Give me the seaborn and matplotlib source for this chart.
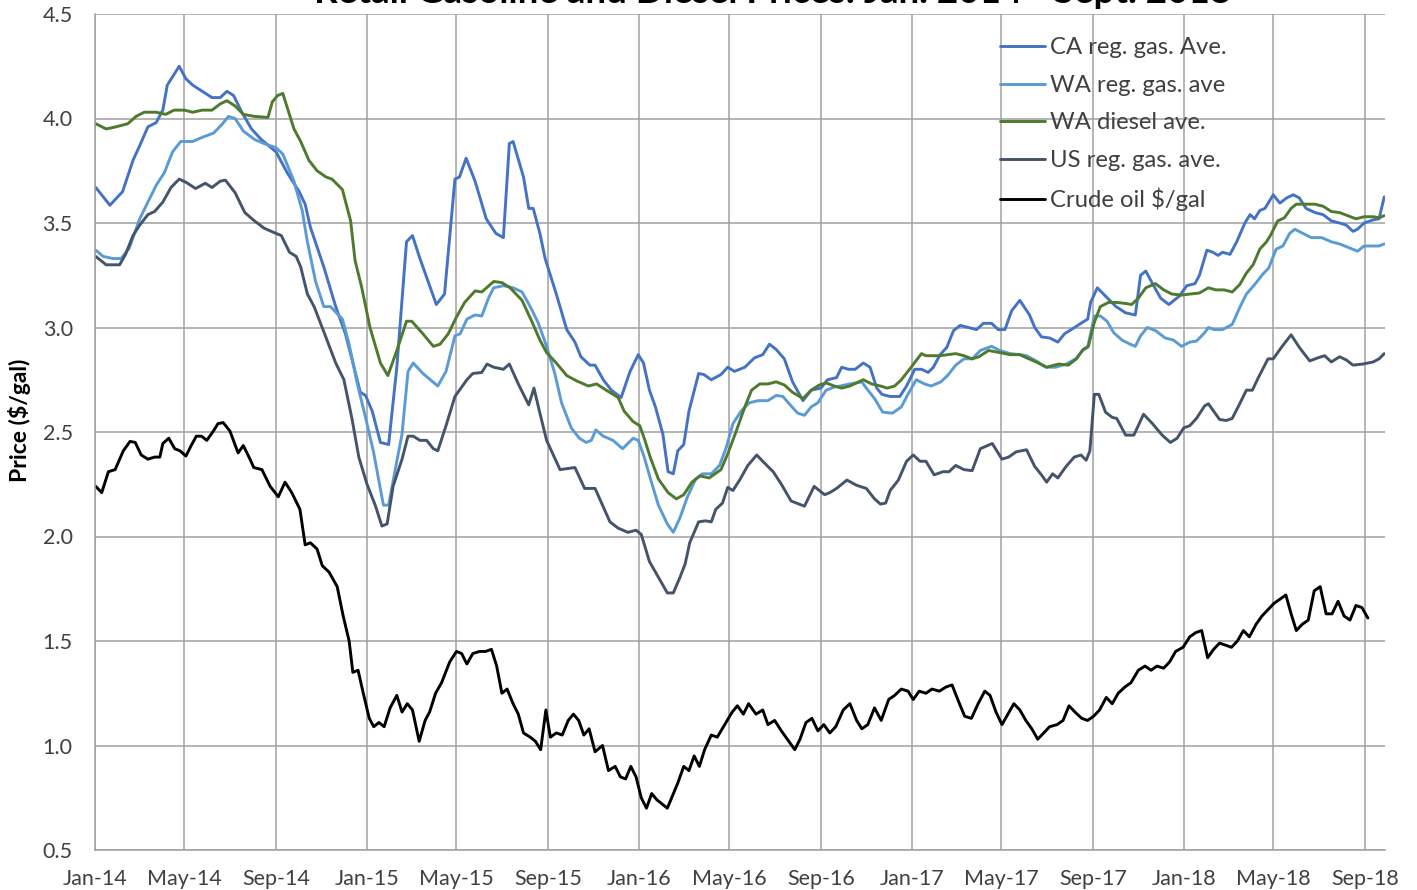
import pandas as pd
import seaborn as sns
import matplotlib.pyplot as plt
import matplotlib.dates as mdates

sns.set_style("white")
plt.rcParams["font.family"] = ["Lato", "DejaVu Sans"]

# ---- data (weekly prices, $/gal) ----
ca_dates = [
    "2014-01-02", "2014-01-21", "2014-02-07", "2014-02-21", "2014-03-02", "2014-03-13", "2014-03-24",
    "2014-04-02", "2014-04-08", "2014-04-24", "2014-05-03", "2014-05-12", "2014-05-25", "2014-06-07",
    "2014-06-18", "2014-06-27", "2014-07-06", "2014-07-17", "2014-07-30", "2014-08-12", "2014-09-01",
    "2014-09-16", "2014-10-02", "2014-10-10", "2014-10-17", "2014-11-04", "2014-11-20", "2014-12-03",
    "2014-12-16", "2014-12-23", "2014-12-30", "2015-01-08", "2015-01-19", "2015-01-30", "2015-02-10",
    "2015-02-23", "2015-03-03", "2015-03-13", "2015-03-24", "2015-04-04", "2015-04-15", "2015-04-29",
    "2015-05-05", "2015-05-14", "2015-05-26", "2015-06-10", "2015-06-23", "2015-07-03", "2015-07-11",
    "2015-07-16", "2015-07-30", "2015-08-06", "2015-08-12", "2015-08-21", "2015-08-28", "2015-09-12",
    "2015-09-26", "2015-10-07", "2015-10-15", "2015-10-27", "2015-11-03", "2015-11-14", "2015-11-25",
    "2015-12-08", "2015-12-20", "2015-12-31", "2016-01-07", "2016-01-15", "2016-01-23", "2016-02-02",
    "2016-02-09", "2016-02-16", "2016-02-22", "2016-03-01", "2016-03-08", "2016-03-21", "2016-03-28",
    "2016-04-07", "2016-04-20", "2016-04-29", "2016-05-08", "2016-05-22", "2016-06-04", "2016-06-15",
    "2016-06-24", "2016-07-03", "2016-07-14", "2016-07-25", "2016-08-08", "2016-08-19", "2016-09-01",
    "2016-09-10", "2016-09-22", "2016-09-29", "2016-10-08", "2016-10-17", "2016-10-28", "2016-11-06",
    "2016-11-15", "2016-11-22", "2016-12-03", "2016-12-16", "2016-12-25", "2017-01-05", "2017-01-14",
    "2017-01-23", "2017-01-30", "2017-02-08", "2017-02-17", "2017-02-26", "2017-03-07", "2017-03-18",
    "2017-03-29", "2017-04-07", "2017-04-18", "2017-04-27", "2017-05-06", "2017-05-15", "2017-05-26",
    "2017-06-08", "2017-06-15", "2017-06-24", "2017-07-05", "2017-07-16", "2017-07-25", "2017-08-03",
    "2017-08-16", "2017-08-25", "2017-08-29", "2017-09-07", "2017-09-18", "2017-10-02", "2017-10-15",
    "2017-10-28", "2017-11-04", "2017-11-11", "2017-11-20", "2017-12-01", "2017-12-12", "2017-12-26",
    "2018-01-05", "2018-01-16", "2018-01-22", "2018-01-27", "2018-02-01", "2018-02-09", "2018-02-16",
    "2018-02-22", "2018-03-04", "2018-03-13", "2018-03-24", "2018-03-31", "2018-04-06", "2018-04-13",
    "2018-04-20", "2018-05-01", "2018-05-10", "2018-05-19", "2018-05-28", "2018-06-05", "2018-06-14",
    "2018-06-26", "2018-07-07", "2018-07-18", "2018-07-29", "2018-08-07", "2018-08-16", "2018-08-22",
    "2018-08-31", "2018-09-12", "2018-09-20", "2018-09-27",
]
ca_price = [
    3.67, 3.585, 3.65, 3.80, 3.87, 3.96, 3.98,
    4.04, 4.16, 4.25, 4.19, 4.16, 4.13, 4.10,
    4.10, 4.13, 4.11, 4.03, 3.95, 3.90, 3.84,
    3.74, 3.65, 3.59, 3.48, 3.29, 3.10, 2.97,
    2.79, 2.69, 2.675, 2.60, 2.45, 2.44, 2.81,
    3.41, 3.44, 3.33, 3.22, 3.11, 3.16, 3.71,
    3.72, 3.81, 3.70, 3.52, 3.45, 3.43, 3.88,
    3.89, 3.72, 3.57, 3.57, 3.45, 3.33, 3.16,
    2.99, 2.93, 2.86, 2.82, 2.82, 2.75, 2.70,
    2.665, 2.79, 2.87, 2.83, 2.70, 2.62, 2.49,
    2.31, 2.30, 2.41, 2.44, 2.60, 2.78, 2.775,
    2.75, 2.775, 2.81, 2.79, 2.81, 2.855, 2.87,
    2.92, 2.895, 2.85, 2.74, 2.65, 2.70, 2.71,
    2.75, 2.76, 2.81, 2.80, 2.80, 2.83, 2.81,
    2.71, 2.68, 2.67, 2.67, 2.72, 2.80, 2.80,
    2.785, 2.81, 2.87, 2.905, 2.985, 3.01, 3.00,
    2.99, 3.02, 3.02, 2.99, 2.99, 3.08, 3.13,
    3.06, 3.00, 2.955, 2.95, 2.93, 2.97, 2.99,
    3.02, 3.04, 3.12, 3.19, 3.15, 3.10, 3.07,
    3.06, 3.25, 3.27, 3.21, 3.14, 3.11, 3.15,
    3.20, 3.21, 3.25, 3.31, 3.37, 3.36, 3.345,
    3.36, 3.35, 3.41, 3.50, 3.54, 3.52, 3.56,
    3.57, 3.635, 3.595, 3.62, 3.635, 3.62, 3.57,
    3.55, 3.54, 3.51, 3.50, 3.49, 3.46, 3.47,
    3.50, 3.515, 3.52, 3.625,
]

wa_gas_dates = [
    "2014-01-02", "2014-01-12", "2014-01-25", "2014-02-05", "2014-02-16", "2014-03-02", "2014-03-13",
    "2014-03-24", "2014-04-04", "2014-04-15", "2014-04-26", "2014-05-12", "2014-05-25", "2014-06-09",
    "2014-06-20", "2014-06-29", "2014-07-08", "2014-07-19", "2014-08-03", "2014-08-16", "2014-09-01",
    "2014-09-10", "2014-09-25", "2014-10-06", "2014-10-13", "2014-10-24", "2014-11-04", "2014-11-13",
    "2014-11-29", "2014-12-08", "2014-12-19", "2014-12-30", "2015-01-10", "2015-01-23", "2015-01-30",
    "2015-02-10", "2015-02-17", "2015-02-25", "2015-03-04", "2015-03-17", "2015-04-06", "2015-04-17",
    "2015-04-29", "2015-05-06", "2015-05-15", "2015-05-26", "2015-06-04", "2015-06-13", "2015-06-20",
    "2015-07-03", "2015-07-16", "2015-07-28", "2015-08-08", "2015-08-19", "2015-08-30", "2015-09-10",
    "2015-09-19", "2015-10-02", "2015-10-13", "2015-10-22", "2015-10-29", "2015-11-04", "2015-11-14",
    "2015-11-27", "2015-12-10", "2015-12-24", "2015-12-31", "2016-01-08", "2016-01-16", "2016-01-27",
    "2016-02-08", "2016-02-16", "2016-02-25", "2016-03-06", "2016-03-17", "2016-03-26", "2016-04-07",
    "2016-04-18", "2016-04-27", "2016-05-06", "2016-05-17", "2016-05-28", "2016-06-09", "2016-06-22",
    "2016-07-03", "2016-07-12", "2016-07-23", "2016-08-01", "2016-08-10", "2016-08-19", "2016-08-28",
    "2016-09-08", "2016-09-19", "2016-09-27", "2016-10-10", "2016-10-26", "2016-11-01", "2016-11-12",
    "2016-11-23", "2016-12-06", "2016-12-18", "2016-12-26", "2017-01-07", "2017-01-18", "2017-01-27",
    "2017-02-09", "2017-02-18", "2017-03-01", "2017-03-12", "2017-03-23", "2017-04-03", "2017-04-18",
    "2017-04-29", "2017-05-13", "2017-05-26", "2017-06-04", "2017-06-17", "2017-06-30", "2017-07-13",
    "2017-07-27", "2017-08-09", "2017-08-18", "2017-08-25", "2017-09-03", "2017-09-11", "2017-09-20",
    "2017-09-29", "2017-10-10", "2017-10-21", "2017-10-28", "2017-11-04", "2017-11-13", "2017-11-24",
    "2017-12-07", "2017-12-18", "2017-12-29", "2018-01-09", "2018-01-18", "2018-01-29", "2018-02-03",
    "2018-02-11", "2018-02-22", "2018-03-07", "2018-03-17", "2018-03-26", "2018-04-06", "2018-04-17",
    "2018-04-25", "2018-05-05", "2018-05-14", "2018-05-23", "2018-05-30", "2018-06-10", "2018-06-21",
    "2018-07-05", "2018-07-18", "2018-07-29", "2018-08-12", "2018-08-22", "2018-08-31", "2018-09-12",
    "2018-09-20", "2018-09-27",
]
wa_gas_price = [
    3.37, 3.34, 3.33, 3.33, 3.38, 3.52, 3.60,
    3.68, 3.74, 3.84, 3.89, 3.89, 3.91, 3.93,
    3.97, 4.01, 4.00, 3.94, 3.90, 3.88, 3.86,
    3.83, 3.70, 3.56, 3.41, 3.22, 3.10, 3.10,
    3.04, 2.92, 2.73, 2.57, 2.40, 2.15, 2.15,
    2.36, 2.49, 2.79, 2.83, 2.78, 2.72, 2.79,
    2.96, 2.97, 3.04, 3.06, 3.055, 3.14, 3.19,
    3.20, 3.19, 3.17, 3.10, 3.02, 2.91, 2.78,
    2.64, 2.52, 2.47, 2.45, 2.46, 2.51, 2.48,
    2.46, 2.42, 2.47, 2.46, 2.38, 2.28, 2.15,
    2.06, 2.02, 2.09, 2.19, 2.275, 2.30, 2.30,
    2.34, 2.425, 2.54, 2.60, 2.64, 2.65, 2.65,
    2.675, 2.67, 2.625, 2.59, 2.58, 2.62, 2.64,
    2.70, 2.715, 2.72, 2.73, 2.74, 2.71, 2.66,
    2.595, 2.59, 2.62, 2.675, 2.75, 2.73, 2.72,
    2.74, 2.77, 2.82, 2.85, 2.85, 2.89, 2.91,
    2.89, 2.875, 2.87, 2.865, 2.84, 2.81, 2.81,
    2.825, 2.85, 2.89, 2.905, 3.055, 3.055, 3.03,
    2.975, 2.94, 2.92, 2.91, 2.96, 3.00, 2.985,
    2.95, 2.94, 2.91, 2.93, 2.935, 2.975, 3.00,
    2.99, 2.99, 3.015, 3.095, 3.16, 3.205, 3.255,
    3.285, 3.375, 3.39, 3.45, 3.47, 3.45, 3.43,
    3.43, 3.41, 3.40, 3.38, 3.365, 3.39, 3.39,
    3.39, 3.40,
]

wa_diesel_dates = [
    "2014-01-02", "2014-01-16", "2014-01-29", "2014-02-14", "2014-02-25", "2014-03-08", "2014-03-24",
    "2014-04-06", "2014-04-17", "2014-05-01", "2014-05-12", "2014-05-25", "2014-06-07", "2014-06-18",
    "2014-06-27", "2014-07-08", "2014-07-19", "2014-08-03", "2014-08-21", "2014-08-27", "2014-09-03",
    "2014-09-10", "2014-09-25", "2014-10-04", "2014-10-15", "2014-10-26", "2014-11-07", "2014-11-15",
    "2014-11-29", "2014-12-10", "2014-12-16", "2014-12-25", "2015-01-05", "2015-01-19", "2015-01-29",
    "2015-02-10", "2015-02-23", "2015-03-02", "2015-03-17", "2015-03-31", "2015-04-09", "2015-04-20",
    "2015-05-01", "2015-05-12", "2015-05-26", "2015-06-04", "2015-06-20", "2015-07-01", "2015-07-12",
    "2015-07-28", "2015-08-10", "2015-08-21", "2015-08-30", "2015-09-12", "2015-09-26", "2015-10-09",
    "2015-10-25", "2015-11-05", "2015-11-18", "2015-12-04", "2015-12-12", "2015-12-24", "2016-01-02",
    "2016-01-08", "2016-01-16", "2016-01-27", "2016-02-09", "2016-02-20", "2016-03-01", "2016-03-12",
    "2016-03-23", "2016-04-04", "2016-04-20", "2016-04-29", "2016-05-10", "2016-05-22", "2016-05-31",
    "2016-06-11", "2016-06-22", "2016-07-03", "2016-07-14", "2016-07-25", "2016-08-08", "2016-08-19",
    "2016-08-30", "2016-09-08", "2016-09-19", "2016-09-29", "2016-10-10", "2016-10-28", "2016-11-08",
    "2016-11-20", "2016-11-29", "2016-12-09", "2016-12-18", "2016-12-29", "2017-01-14", "2017-01-20",
    "2017-02-08", "2017-03-01", "2017-03-12", "2017-03-23", "2017-04-01", "2017-04-14", "2017-04-29",
    "2017-05-13", "2017-05-26", "2017-06-04", "2017-06-17", "2017-07-01", "2017-07-17", "2017-07-30",
    "2017-08-10", "2017-08-19", "2017-08-26", "2017-09-03", "2017-09-11", "2017-09-22", "2017-10-03",
    "2017-10-15", "2017-10-23", "2017-11-01", "2017-11-11", "2017-11-24", "2017-12-05", "2017-12-16",
    "2017-12-29", "2018-01-09", "2018-01-22", "2018-02-03", "2018-02-13", "2018-02-24", "2018-03-07",
    "2018-03-17", "2018-03-26", "2018-04-04", "2018-04-13", "2018-04-22", "2018-04-28", "2018-05-07",
    "2018-05-16", "2018-05-25", "2018-06-01", "2018-06-12", "2018-06-26", "2018-07-07", "2018-07-18",
    "2018-07-29", "2018-08-09", "2018-08-20", "2018-08-31", "2018-09-12", "2018-09-20", "2018-09-27",
]
wa_diesel_price = [
    3.975, 3.95, 3.96, 3.975, 4.01, 4.03, 4.03,
    4.02, 4.04, 4.04, 4.03, 4.04, 4.04, 4.07,
    4.085, 4.06, 4.02, 4.01, 4.005, 4.08, 4.11,
    4.12, 3.95, 3.89, 3.80, 3.75, 3.72, 3.71,
    3.66, 3.51, 3.32, 3.19, 3.00, 2.83, 2.77,
    2.89, 3.03, 3.03, 2.97, 2.91, 2.92, 2.97,
    3.05, 3.12, 3.175, 3.17, 3.22, 3.215, 3.19,
    3.13, 3.03, 2.94, 2.88, 2.83, 2.77, 2.745,
    2.72, 2.73, 2.70, 2.665, 2.60, 2.55, 2.53,
    2.47, 2.38, 2.275, 2.21, 2.18, 2.20, 2.26,
    2.29, 2.28, 2.32, 2.395, 2.50, 2.62, 2.70,
    2.73, 2.73, 2.74, 2.725, 2.69, 2.66, 2.70,
    2.725, 2.735, 2.72, 2.71, 2.72, 2.75, 2.73,
    2.72, 2.71, 2.72, 2.75, 2.80, 2.875, 2.865,
    2.865, 2.875, 2.865, 2.85, 2.86, 2.89, 2.88,
    2.87, 2.87, 2.855, 2.835, 2.81, 2.825, 2.82,
    2.85, 2.895, 2.91, 3.025, 3.10, 3.12, 3.12,
    3.115, 3.11, 3.14, 3.19, 3.21, 3.18, 3.16,
    3.155, 3.16, 3.165, 3.19, 3.18, 3.18, 3.17,
    3.205, 3.26, 3.30, 3.375, 3.41, 3.445, 3.51,
    3.525, 3.57, 3.59, 3.59, 3.59, 3.58, 3.555,
    3.55, 3.535, 3.52, 3.53, 3.53, 3.525, 3.535,
]

us_gas_dates = [
    "2014-01-02", "2014-01-16", "2014-02-03", "2014-02-11", "2014-02-21", "2014-03-02", "2014-03-13",
    "2014-03-22", "2014-04-02", "2014-04-13", "2014-04-24", "2014-05-03", "2014-05-16", "2014-05-29",
    "2014-06-07", "2014-06-18", "2014-06-25", "2014-07-08", "2014-07-21", "2014-08-03", "2014-08-16",
    "2014-09-01", "2014-09-08", "2014-09-19", "2014-09-28", "2014-10-04", "2014-10-13", "2014-10-22",
    "2014-11-04", "2014-11-20", "2014-12-01", "2014-12-12", "2014-12-21", "2015-01-01", "2015-01-12",
    "2015-01-21", "2015-01-28", "2015-02-05", "2015-02-17", "2015-02-25", "2015-03-04", "2015-03-13",
    "2015-03-22", "2015-03-31", "2015-04-06", "2015-04-17", "2015-04-29", "2015-05-15", "2015-05-23",
    "2015-06-04", "2015-06-11", "2015-06-20", "2015-07-03", "2015-07-11", "2015-07-23", "2015-08-06",
    "2015-08-13", "2015-08-21", "2015-08-30", "2015-09-17", "2015-10-07", "2015-10-20", "2015-11-03",
    "2015-11-23", "2015-12-04", "2015-12-17", "2015-12-28", "2016-01-04", "2016-01-15", "2016-01-27",
    "2016-02-08", "2016-02-16", "2016-02-25", "2016-03-03", "2016-03-09", "2016-03-21", "2016-03-30",
    "2016-04-07", "2016-04-13", "2016-04-22", "2016-04-29", "2016-05-06", "2016-05-15", "2016-05-26",
    "2016-06-07", "2016-06-15", "2016-06-29", "2016-07-10", "2016-07-23", "2016-08-10", "2016-08-23",
    "2016-09-06", "2016-09-13", "2016-09-22", "2016-10-06", "2016-10-19", "2016-11-01", "2016-11-12",
    "2016-11-20", "2016-11-27", "2016-12-03", "2016-12-14", "2016-12-25", "2017-01-03", "2017-01-12",
    "2017-01-20", "2017-01-31", "2017-02-12", "2017-02-20", "2017-03-01", "2017-03-12", "2017-03-23",
    "2017-04-03", "2017-04-19", "2017-05-02", "2017-05-11", "2017-05-21", "2017-06-04", "2017-06-15",
    "2017-06-24", "2017-07-01", "2017-07-09", "2017-07-16", "2017-07-27", "2017-08-07", "2017-08-16",
    "2017-08-23", "2017-08-28", "2017-09-03", "2017-09-09", "2017-09-18", "2017-09-27", "2017-10-03",
    "2017-10-15", "2017-10-26", "2017-11-08", "2017-11-20", "2017-12-03", "2017-12-14", "2017-12-23",
    "2018-01-01", "2018-01-09", "2018-01-18", "2018-01-29", "2018-02-03", "2018-02-11", "2018-02-18",
    "2018-02-27", "2018-03-07", "2018-03-17", "2018-03-26", "2018-04-03", "2018-04-11", "2018-04-24",
    "2018-05-01", "2018-05-12", "2018-05-25", "2018-06-05", "2018-06-19", "2018-06-30", "2018-07-09",
    "2018-07-18", "2018-07-29", "2018-08-07", "2018-08-16", "2018-08-29", "2018-09-12", "2018-09-20",
    "2018-09-27",
]
us_gas_price = [
    3.34, 3.30, 3.30, 3.35, 3.44, 3.49, 3.54,
    3.555, 3.60, 3.67, 3.71, 3.695, 3.665, 3.69,
    3.67, 3.70, 3.705, 3.645, 3.55, 3.51, 3.475,
    3.45, 3.44, 3.36, 3.34, 3.29, 3.16, 3.10,
    2.98, 2.83, 2.75, 2.56, 2.38, 2.25, 2.15,
    2.05, 2.06, 2.24, 2.37, 2.48, 2.48, 2.46,
    2.46, 2.42, 2.41, 2.53, 2.67, 2.75, 2.78,
    2.785, 2.825, 2.81, 2.80, 2.825, 2.73, 2.63,
    2.71, 2.59, 2.46, 2.32, 2.33, 2.23, 2.23,
    2.07, 2.04, 2.02, 2.03, 2.01, 1.88, 1.805,
    1.73, 1.73, 1.805, 1.87, 1.97, 2.07, 2.075,
    2.07, 2.13, 2.16, 2.235, 2.22, 2.27, 2.34,
    2.39, 2.36, 2.31, 2.25, 2.17, 2.145, 2.24,
    2.20, 2.21, 2.23, 2.27, 2.245, 2.23, 2.18,
    2.155, 2.16, 2.22, 2.27, 2.36, 2.39, 2.36,
    2.36, 2.295, 2.31, 2.31, 2.34, 2.32, 2.315,
    2.42, 2.445, 2.37, 2.38, 2.405, 2.415, 2.335,
    2.295, 2.26, 2.30, 2.28, 2.335, 2.38, 2.39,
    2.365, 2.41, 2.68, 2.68, 2.595, 2.57, 2.565,
    2.485, 2.485, 2.585, 2.54, 2.485, 2.45, 2.47,
    2.52, 2.53, 2.565, 2.625, 2.635, 2.595, 2.56,
    2.555, 2.565, 2.635, 2.70, 2.70, 2.76, 2.85,
    2.85, 2.905, 2.965, 2.905, 2.84, 2.855, 2.865,
    2.835, 2.86, 2.845, 2.82, 2.825, 2.835, 2.85,
    2.875,
]

crude_dates = [
    "2014-01-02", "2014-01-10", "2014-01-19", "2014-01-28", "2014-02-08", "2014-02-17", "2014-02-24",
    "2014-03-04", "2014-03-13", "2014-03-22", "2014-03-29", "2014-04-02", "2014-04-10", "2014-04-18",
    "2014-04-25", "2014-05-03", "2014-05-10", "2014-05-17", "2014-05-24", "2014-05-31", "2014-06-08",
    "2014-06-15", "2014-06-22", "2014-07-01", "2014-07-12", "2014-07-19", "2014-07-28", "2014-08-02",
    "2014-08-13", "2014-08-24", "2014-09-04", "2014-09-13", "2014-09-22", "2014-10-03", "2014-10-10",
    "2014-10-17", "2014-10-26", "2014-11-02", "2014-11-11", "2014-11-22", "2014-11-30", "2014-12-08",
    "2014-12-13", "2014-12-20", "2014-12-27", "2015-01-04", "2015-01-10", "2015-01-17", "2015-01-24",
    "2015-02-01", "2015-02-10", "2015-02-17", "2015-02-24", "2015-03-03", "2015-03-12", "2015-03-20",
    "2015-03-26", "2015-04-03", "2015-04-11", "2015-04-22", "2015-05-01", "2015-05-08", "2015-05-15",
    "2015-05-23", "2015-06-01", "2015-06-09", "2015-06-17", "2015-06-24", "2015-07-01", "2015-07-08",
    "2015-07-16", "2015-07-23", "2015-07-30", "2015-08-08", "2015-08-15", "2015-08-22", "2015-08-29",
    "2015-09-04", "2015-09-12", "2015-09-20", "2015-09-28", "2015-10-05", "2015-10-12", "2015-10-19",
    "2015-10-26", "2015-11-03", "2015-11-13", "2015-11-21", "2015-11-30", "2015-12-07", "2015-12-14",
    "2015-12-21", "2015-12-28", "2016-01-04", "2016-01-11", "2016-01-18", "2016-01-25", "2016-02-01",
    "2016-02-08", "2016-02-15", "2016-02-22", "2016-03-01", "2016-03-08", "2016-03-15", "2016-03-22",
    "2016-03-29", "2016-04-07", "2016-04-15", "2016-04-25", "2016-05-05", "2016-05-12", "2016-05-20",
    "2016-05-27", "2016-06-06", "2016-06-15", "2016-06-22", "2016-07-01", "2016-07-10", "2016-07-18",
    "2016-07-28", "2016-08-04", "2016-08-12", "2016-08-20", "2016-08-28", "2016-09-05", "2016-09-13",
    "2016-09-21", "2016-10-01", "2016-10-10", "2016-10-19", "2016-10-26", "2016-11-03", "2016-11-12",
    "2016-11-21", "2016-12-01", "2016-12-09", "2016-12-18", "2016-12-27", "2017-01-03", "2017-01-11",
    "2017-01-20", "2017-01-28", "2017-02-07", "2017-02-16", "2017-02-24", "2017-03-06", "2017-03-13",
    "2017-03-22", "2017-03-31", "2017-04-09", "2017-04-16", "2017-04-24", "2017-05-02", "2017-05-10",
    "2017-05-18", "2017-05-26", "2017-06-03", "2017-06-11", "2017-06-19", "2017-06-27", "2017-07-05",
    "2017-07-15", "2017-07-23", "2017-07-31", "2017-08-08", "2017-08-17", "2017-08-25", "2017-09-02",
    "2017-09-10", "2017-09-19", "2017-09-27", "2017-10-05", "2017-10-14", "2017-10-22", "2017-11-01",
    "2017-11-10", "2017-11-18", "2017-11-26", "2017-12-05", "2017-12-13", "2017-12-21", "2017-12-31",
    "2018-01-09", "2018-01-17", "2018-01-25", "2018-02-02", "2018-02-10", "2018-02-18", "2018-02-26",
    "2018-03-06", "2018-03-14", "2018-03-22", "2018-03-30", "2018-04-08", "2018-04-16", "2018-04-24",
    "2018-05-02", "2018-05-10", "2018-05-18", "2018-05-25", "2018-06-01", "2018-06-09", "2018-06-17",
    "2018-06-25", "2018-07-03", "2018-07-11", "2018-07-19", "2018-07-27", "2018-08-04", "2018-08-12",
    "2018-08-20", "2018-08-28", "2018-09-05",
]
crude_price = [
    2.24, 2.21, 2.31, 2.32, 2.41, 2.455, 2.45,
    2.39, 2.37, 2.38, 2.38, 2.445, 2.47, 2.42,
    2.41, 2.385, 2.435, 2.48, 2.48, 2.46, 2.50,
    2.54, 2.545, 2.505, 2.40, 2.435, 2.37, 2.33,
    2.32, 2.24, 2.19, 2.26, 2.21, 2.13, 1.96,
    1.97, 1.94, 1.86, 1.83, 1.76, 1.62, 1.50,
    1.35, 1.36, 1.25, 1.13, 1.09, 1.11, 1.09,
    1.18, 1.24, 1.16, 1.20, 1.17, 1.02, 1.12,
    1.16, 1.25, 1.30, 1.40, 1.45, 1.44, 1.39,
    1.44, 1.45, 1.45, 1.46, 1.38, 1.25, 1.27,
    1.20, 1.15, 1.06, 1.04, 1.02, 0.98, 1.17,
    1.04, 1.06, 1.05, 1.12, 1.15, 1.12, 1.05,
    1.08, 0.97, 1.00, 0.88, 0.90, 0.85, 0.84,
    0.90, 0.85, 0.75, 0.70, 0.77, 0.74, 0.72,
    0.70, 0.76, 0.82, 0.90, 0.88, 0.95, 0.90,
    0.98, 1.05, 1.04, 1.10, 1.16, 1.19, 1.15,
    1.20, 1.15, 1.17, 1.10, 1.12, 1.07, 1.03,
    0.98, 1.03, 1.11, 1.13, 1.07, 1.10, 1.06,
    1.09, 1.17, 1.20, 1.12, 1.08, 1.10, 1.18,
    1.12, 1.22, 1.24, 1.27, 1.26, 1.22, 1.26,
    1.25, 1.27, 1.26, 1.28, 1.29, 1.20, 1.14,
    1.13, 1.20, 1.26, 1.24, 1.16, 1.10, 1.15,
    1.20, 1.17, 1.12, 1.08, 1.03, 1.06, 1.09,
    1.10, 1.12, 1.19, 1.16, 1.13, 1.12, 1.14,
    1.17, 1.23, 1.20, 1.25, 1.28, 1.30, 1.36,
    1.38, 1.36, 1.38, 1.37, 1.40, 1.45, 1.47,
    1.52, 1.54, 1.55, 1.42, 1.46, 1.49, 1.48,
    1.47, 1.50, 1.55, 1.52, 1.58, 1.62, 1.65,
    1.68, 1.70, 1.72, 1.63, 1.55, 1.58, 1.60,
    1.74, 1.76, 1.63, 1.63, 1.69, 1.62, 1.60,
    1.67, 1.66, 1.61,
]

series_names = ["CA reg. gas. Ave.", "WA reg. gas. ave", "WA diesel ave.",
                "US reg. gas. ave.", "Crude oil $/gal"]
series_colors = ["#4472C4", "#5B9BD5", "#4E7A2E", "#44546A", "#000000"]

# long-form table for seaborn
frames = []
for name, d, v in zip(series_names,
                      [ca_dates, wa_gas_dates, wa_diesel_dates, us_gas_dates, crude_dates],
                      [ca_price, wa_gas_price, wa_diesel_price, us_gas_price, crude_price]):
    assert len(d) == len(v), name
    frames.append(pd.DataFrame({"date": pd.to_datetime(d), "price": v, "series": name}))
df = pd.concat(frames, ignore_index=True)

# ---- figure ----
fig = plt.figure(figsize=(14.17, 8.9), dpi=100)
ax = fig.add_axes([95 / 1417, 1 - 850 / 890, 1290 / 1417, 836 / 890])

grid_col = "#A0A0A0"
text_col = "#404040"

sns.lineplot(data=df, x="date", y="price", hue="series", hue_order=series_names,
             palette=series_colors, estimator=None, linewidth=2.1, ax=ax)

ax.set_xlim(pd.Timestamp("2014-01-01"), pd.Timestamp("2018-09-28"))
ax.set_ylim(0.5, 4.5)
ax.set_yticks([0.5, 1.0, 1.5, 2.0, 2.5, 3.0, 3.5, 4.0, 4.5])
ax.yaxis.set_major_formatter(plt.FormatStrFormatter("%.1f"))
ax.xaxis.set_major_locator(mdates.MonthLocator(bymonth=[1, 5, 9], bymonthday=1))
ax.xaxis.set_major_formatter(mdates.DateFormatter("%b-%y"))

ax.grid(True, color=grid_col, linewidth=1.1)
ax.set_axisbelow(True)
for side in ["top", "right"]:
    ax.spines[side].set_visible(False)
for side in ["left", "bottom"]:
    ax.spines[side].set_color(grid_col)
    ax.spines[side].set_linewidth(1.1)

ax.tick_params(axis="both", labelsize=15.5, colors=text_col, length=6, width=1.1)
ax.tick_params(axis="x", color=grid_col, pad=8)
ax.tick_params(axis="y", color=grid_col, pad=10)
ax.set_xlabel("")
ax.set_ylabel("")

fig.text(20 / 1417, 1 - 420 / 890, "Price ($/gal)", rotation=90, ha="center", va="center",
         fontsize=16.5, fontweight="bold", color="#000000")

# title sits partly above the top edge of the image, as in the source
fig.text(772 / 1417, 1 - 3 / 890, "Retail Gasoline and Diesel Prices: Jan. 2014 - Sept. 2018",
         ha="center", va="baseline", fontsize=26.5, fontweight="bold", color="#000000")

handles, labels = ax.get_legend_handles_labels()
leg = ax.legend(handles, labels, loc="upper left", bbox_to_anchor=(0.7016, 0.9719),
                frameon=False, fontsize=17.2, handlelength=1.9, handletextpad=0.2,
                labelspacing=0.69, borderpad=0, borderaxespad=0)
for t in leg.get_texts():
    t.set_color(text_col)

fig.savefig("out.png", dpi=100)
